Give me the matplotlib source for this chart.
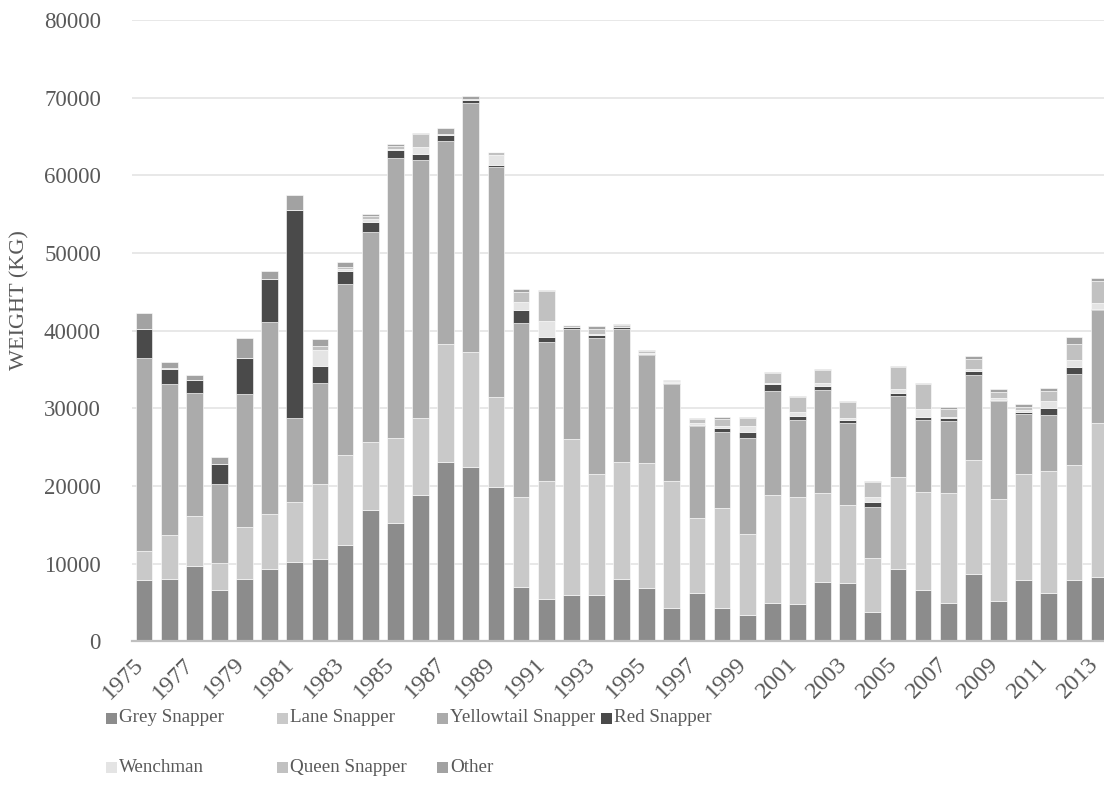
import numpy as np
import matplotlib.pyplot as plt
from matplotlib.patches import Rectangle

# --- data (kg) ---
years = list(range(1975, 2014))

grey_snapper = [7850, 8070, 9640, 6550, 7960, 9260, 10230, 10560, 12340, 16890,
                15210, 18890, 23110, 22410, 19870, 6930, 5410, 6010, 5900, 7960,
                6880, 4280, 6280, 4280, 3360, 4930, 4760, 7580, 7470, 3740,
                9260, 6550, 4870, 8610, 5140, 7850, 6170, 7900, 8340]
lane_snapper = [3840, 5570, 6490, 3570, 6710, 7090, 7740, 9630, 11690, 8820,
                10940, 9800, 15210, 14890, 11630, 11690, 15270, 20080, 15700, 15150,
                16070, 16400, 9630, 12930, 10500, 13910, 13860, 11470, 10120, 7030,
                11850, 12720, 14180, 14770, 13210, 13750, 15810, 14840, 19810]
yellowtail_snapper = [24740, 19540, 15860, 10180, 17160, 24790, 10770, 13050, 21980, 26960,
                      36100, 33290, 26040, 31990, 29510, 22410, 17810, 14070, 17480, 17050,
                      13860, 12500, 11750, 9750, 12290, 13370, 9910, 13270, 10500, 6550,
                      10450, 9200, 9310, 10880, 12560, 7680, 7200, 11630, 14450]
red_snapper = [3790, 1900, 1630, 2490, 4710, 5570, 26850, 2160, 1620, 1350,
               980, 760, 810, 380, 320, 1630, 750, 270, 330, 270,
               220, 110, 220, 490, 750, 860, 430, 590, 440, 600,
               380, 430, 330, 540, 110, 220, 920, 980, 160]
wenchman = [0, 0, 0, 0, 0, 0, 0, 2110, 270, 380,
            200, 970, 100, 0, 1350, 1020, 1950, 100, 200, 100,
            150, 100, 200, 330, 870, 220, 540, 330, 210, 650,
            540, 980, 220, 220, 270, 220, 870, 920, 810]
queen_snapper = [0, 150, 0, 0, 0, 0, 0, 540, 270, 380,
                 300, 1620, 0, 200, 270, 1360, 3950, 150, 650, 150,
                 250, 180, 500, 900, 920, 1300, 1950, 1670, 2060, 1950,
                 2870, 3300, 1030, 1300, 870, 430, 1250, 2060, 2760]
other = [2110, 770, 700, 920, 2490, 920, 1840, 870, 710, 270,
         360, 170, 880, 340, 110, 270, 60, 80, 330, 130,
         140, 100, 170, 180, 160, 110, 110, 110, 110, 160,
         110, 110, 220, 380, 380, 430, 430, 810, 430]

series_names = ["Grey Snapper", "Lane Snapper", "Yellowtail Snapper", "Red Snapper",
                "Wenchman", "Queen Snapper", "Other"]
series_values = [grey_snapper, lane_snapper, yellowtail_snapper, red_snapper,
                 wenchman, queen_snapper, other]
series_colors = ["#8c8c8c", "#c9c9c9", "#ababab", "#4a4a4a",
                 "#e4e4e4", "#c1c1c1", "#a2a2a2"]

# --- figure ---
W, H = 1104, 810
fig = plt.figure(figsize=(W / 100, H / 100), dpi=100)
ax = fig.add_axes([131.5 / W, (H - 641.3) / H, (W - 131.5) / W, 621.3 / H])

font = "Liberation Serif"
txt_col = "#595959"

x = np.arange(len(years))
bottom = np.zeros(len(years))
for name, vals, col in zip(series_names, series_values, series_colors):
    vals = np.array(vals, dtype=float)
    ax.bar(x, vals, bottom=bottom, width=0.665, color=col, edgecolor="white",
           linewidth=0.4, zorder=2)
    bottom += vals

ax.set_xlim(-0.5, (W - 131.5) / 25.13 - 0.5)
ax.set_ylim(0, 80000)
ax.set_yticks(np.arange(0, 80001, 10000))
ax.set_yticklabels([str(v) for v in range(0, 80001, 10000)],
                   fontname=font, fontsize=16.5, color=txt_col)
ax.yaxis.grid(True, color="#e6e6e6", linewidth=1.3, zorder=0)
ax.set_axisbelow(True)

# year labels every other bar, rotated; ends sit under the bar centres
ax.set_xticks(x[::2])
ax.set_xticklabels([])
for xi, yr in zip(x[::2], years[::2]):
    ax.annotate(str(yr), xy=(xi, 0), xycoords=("data", "axes fraction"),
                xytext=(-8, -9), textcoords="offset points", rotation=45,
                ha="right", va="top", rotation_mode="anchor", fontname=font,
                fontsize=17.5, color=txt_col, annotation_clip=False)

ax.tick_params(axis="both", length=0)
ax.tick_params(axis="y", pad=22)

for s in ["top", "right", "left"]:
    ax.spines[s].set_visible(False)
ax.spines["bottom"].set_color("#bfbfbf")
ax.spines["bottom"].set_linewidth(1.6)

fig.text(20 / W, (H - 300) / H, "WEIGHT (KG)", fontname=font, fontsize=16,
         color=txt_col, rotation=90, ha="center", va="center")

# --- legend, laid out like the original (two wrapped rows) ---
legend_spots = [(106, 718), (277, 718), (437, 718), (601, 718),
                (106, 767), (277, 767), (437, 767)]
sq = 11
for (px, py), name, col in zip(legend_spots, series_names, series_colors):
    fig.add_artist(Rectangle((px / W, (H - py - sq / 2) / H), sq / W, sq / H,
                             transform=fig.transFigure, facecolor=col,
                             edgecolor="none"))
    fig.text((px + sq + 2) / W, (H - py) / H, name, fontname=font, fontsize=13.7,
             color=txt_col, ha="left", va="center")

fig.savefig("out.png", dpi=100)
